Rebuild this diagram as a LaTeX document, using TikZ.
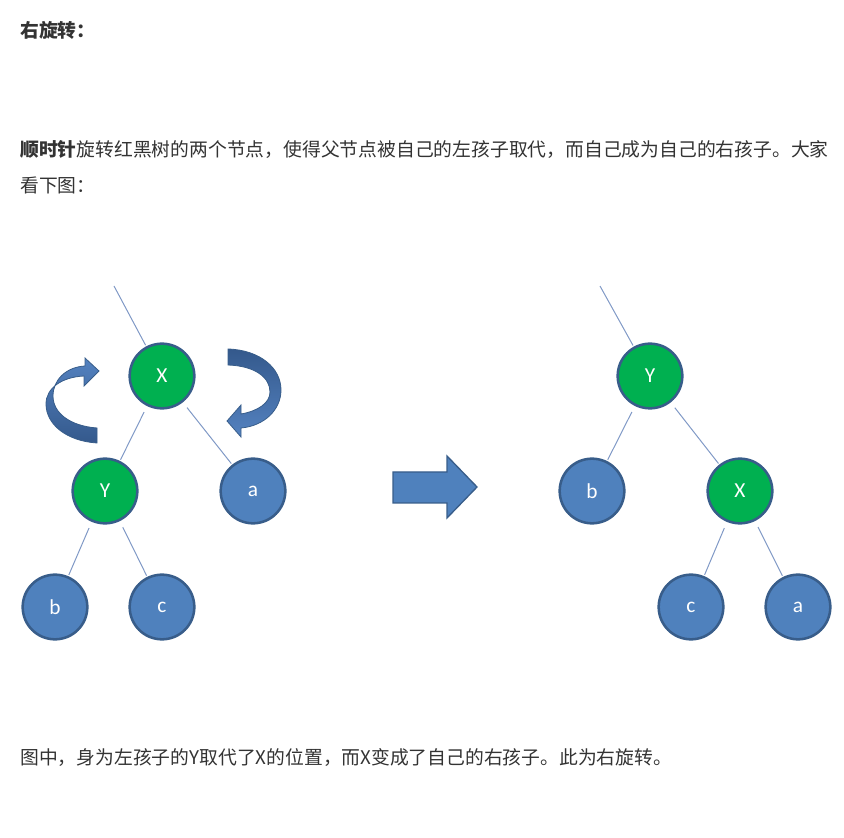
\documentclass[tikz,border=0pt]{standalone}
\usepackage{fontspec}
\setmainfont{Noto Sans CJK SC}
\newfontfamily\labelfont{Carlito}
\usepackage{tikz}
\usetikzlibrary{arrows.meta,calc,positioning}
\definecolor{txtgray}{HTML}{333333}
\definecolor{rbgreen}{HTML}{00B050}
\definecolor{rbblue}{HTML}{4F81BD}
\definecolor{rbrim}{HTML}{385D8A}
\definecolor{edgeblue}{HTML}{8099C6}
\definecolor{curldark}{HTML}{34598C}
\definecolor{curllight}{HTML}{5482C0}
\tikzset{tnode/.style={circle,draw=rbrim,line width=1.9pt,minimum size=48.5pt,inner sep=0pt,
    text=white,font=\labelfont\fontsize{16pt}{16pt}\selectfont},
  gnode/.style={tnode,fill=rbgreen},
  bnode/.style={tnode,fill=rbblue},
  edge/.style={draw=edgeblue,line width=0.75pt,shorten <=5pt,shorten >=1pt},
  para/.style={anchor=base west,inner sep=0pt,text=txtgray,font=\fontsize{14.1pt}{18pt}\selectfont}}
\begin{document}
\begin{tikzpicture}[x=0.75pt,y=-0.75pt]
\useasboundingbox (0,0) rectangle (844,838);
% texts
\node[para] (title) at (20,38) {\bfseries 右旋转：};
\node[para] (line1) at (20,157) {{\bfseries 顺时针}旋转红黑树的两个节点，使得父节点被自己的左孩子取代，而自己成为自己的右孩子。大家};
\node[para] (line2) at (20,193) {看下图：};
\node[para] (note) at (20,764) {图中，身为左孩子的Y取代了X的位置，而X变成了自己的右孩子。此为右旋转。};
% left tree
\coordinate (ltop) at (114,286);
\node[gnode] (lx) at (162,376) {X};
\node[gnode] (ly) at (105,491) {Y};
\node[bnode] (la) at (253,491) {a};
\node[bnode] (lb) at (55,607) {b};
\node[bnode] (lc) at (162,607) {c};
\draw[edge,shorten <=0pt] (ltop) -- (lx);
\draw[edge] (lx) -- (ly);
\draw[edge] (lx) -- (la);
\draw[edge] (ly) -- (lb);
\draw[edge] (ly) -- (lc);
% curled arrows
\shade[top color=curllight,bottom color=curldark,draw=rbrim,line width=0.6pt]
  (97,443) .. controls (66,441) and (46,424) .. (46,404) .. controls (46,388) and (62,377) .. (84,376)
  -- (84,386) -- (99,371) -- (85,358) -- (85,366) .. controls (66,367) and (53,380) .. (53,396)
  .. controls (53,413) and (70,426) .. (97,428) -- cycle;
\shade[top color=curldark,bottom color=curllight,draw=rbrim,line width=0.6pt]
  (228,349) .. controls (260,350) and (281,368) .. (281,390) .. controls (281,410) and (264,426) .. (241,428)
  -- (241,437) -- (227,421) -- (241,405) -- (241,414) .. controls (258,411) and (270,403) .. (270,392)
  .. controls (270,378) and (256,366) .. (228,365) -- cycle;
% big arrow
\filldraw[fill=rbblue,draw=rbrim,line width=1pt]
  (393,472) -- (447,472) -- (447,456) -- (477,487) -- (447,518) -- (447,503) -- (393,503) -- cycle;
% right tree
\coordinate (rtop) at (600,286);
\node[gnode] (ry) at (650,376) {Y};
\node[bnode] (rb) at (592,491) {b};
\node[gnode] (rx) at (740,491) {X};
\node[bnode] (rc) at (691,607) {c};
\node[bnode] (ra) at (798,607) {a};
\draw[edge,shorten <=0pt] (rtop) -- (ry);
\draw[edge] (ry) -- (rb);
\draw[edge] (ry) -- (rx);
\draw[edge] (rx) -- (rc);
\draw[edge] (rx) -- (ra);
\end{tikzpicture}
\end{document}
